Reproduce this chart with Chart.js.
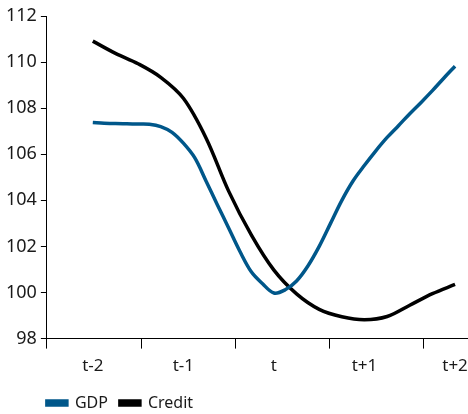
<!DOCTYPE html>
<html>
<head>
<meta charset="utf-8">
<script src="https://cdn.jsdelivr.net/npm/chart.js@4"></script>
<style>
  html, body { margin: 0; padding: 0; background: #fff; }
  #wrap { width: 468px; height: 414px; }
</style>
</head>
<body>
<div id="wrap"><canvas id="chart"></canvas></div>
<script>
// period labels sit at whole periods, tick marks sit between them (offset a bit)
const periodLabels = ['t-2', 't-1', 't', 't+1', 't+2'];
const periodValues = [-2, -1, 0, 1, 2];
const tickMarks = [-2.507, -1.46, -0.424, 0.612, 1.647];

const gdpX = [-2, -1.875, -1.75, -1.625, -1.5, -1.375, -1.25, -1.125, -1, -0.875, -0.75, -0.625,
  -0.5, -0.375, -0.25, -0.125, 0, 0.125, 0.25, 0.375, 0.5, 0.625, 0.75, 0.875,
  1, 1.125, 1.25, 1.375, 1.5, 1.625, 1.75, 1.875, 2];
const gdp = [107.38, 107.35, 107.33, 107.32, 107.31, 107.3, 107.2, 106.95, 106.48, 105.85, 104.84, 103.81,
  102.8, 101.78, 100.9, 100.38, 99.98, 100.12, 100.5, 101.15, 102.0, 103.0, 104.0, 104.85,
  105.52, 106.15, 106.73, 107.24, 107.76, 108.25, 108.76, 109.3, 109.82];

const creditX = [-2, -1.75, -1.5, -1.25, -1, -0.75, -0.5, -0.25, 0, 0.25, 0.5, 0.75, 1, 1.25, 1.5, 1.75, 2];
const credit = [110.91, 110.38, 109.93, 109.34, 108.43, 106.71, 104.4, 102.5, 100.97, 99.94, 99.27, 98.95,
  98.82, 98.96, 99.45, 99.95, 100.35];

const FONT = "'Noto Sans', 'DejaVu Sans', sans-serif";
const TEXT = '#1a1a1a';

const toPoints = (xs, ys) => xs.map((x, i) => ({ x: x, y: ys[i] }));

// push legend so it starts under the y axis; try a narrower face for text
const tweaks = {
  id: 'tweaks',
  afterLayout(chart) {
    const pad = chart.options.plugins.legend.labels.padding;
    chart.legend.left = chart.chartArea.left - pad;
  },
  beforeDraw(chart) {
    chart.ctx.fontStretch = 'condensed';
  }
};

const ctx = document.getElementById('chart');
const chart = new Chart(ctx, {
  type: 'line',
  data: {
    datasets: [
      {
        label: 'GDP',
        data: toPoints(gdpX, gdp),
        borderColor: '#00578a',
        backgroundColor: '#00578a',
        borderWidth: 3.5,
        pointRadius: 0,
        tension: 0.35,
      },
      {
        label: 'Credit',
        data: toPoints(creditX, credit),
        borderColor: '#000000',
        backgroundColor: '#000000',
        borderWidth: 3.5,
        pointRadius: 0,
        tension: 0.35,
      },
    ],
  },
  options: {
    responsive: true,
    maintainAspectRatio: false,
    animation: false,
    layout: { padding: { left: 2, right: 0, top: 16, bottom: -7 } },
    plugins: {
      legend: {
        position: 'bottom',
        align: 'start',
        labels: {
          boxWidth: 20,
          boxHeight: 4,
          padding: 12,
          color: TEXT,
          font: { family: FONT, size: 16 },
        },
      },
      tooltip: { enabled: false },
    },
    scales: {
      x: {
        type: 'linear',
        min: -2.507,
        max: 2.143,
        afterBuildTicks(scale) {
          const vals = tickMarks.concat(periodValues).sort((a, b) => a - b);
          scale.ticks = vals.map((v) => ({ value: v }));
        },
        afterFit(scale) {
          // let the last label run to the edge like the original
          scale.paddingRight = 0;
        },
        border: { display: true, color: '#000', width: 1 },
        grid: {
          drawOnChartArea: false,
          tickLength: 10,
          color: (c) => (c.tick && tickMarks.includes(c.tick.value) ? '#000' : 'rgba(0,0,0,0)'),
        },
        ticks: {
          autoSkip: false,
          maxRotation: 0,
          padding: 7,
          color: TEXT,
          font: { family: FONT, size: 17 },
          callback: (v) => {
            const i = periodValues.indexOf(v);
            return i >= 0 ? periodLabels[i] : '';
          },
        },
      },
      y: {
        min: 98,
        max: 112,
        border: { display: true, color: '#000', width: 1 },
        grid: { drawOnChartArea: false, tickLength: 6, color: '#000' },
        ticks: {
          stepSize: 2,
          padding: 4,
          color: TEXT,
          font: { family: FONT, size: 18 },
        },
      },
    },
  },
  plugins: [tweaks],
});
</script>
</body>
</html>
